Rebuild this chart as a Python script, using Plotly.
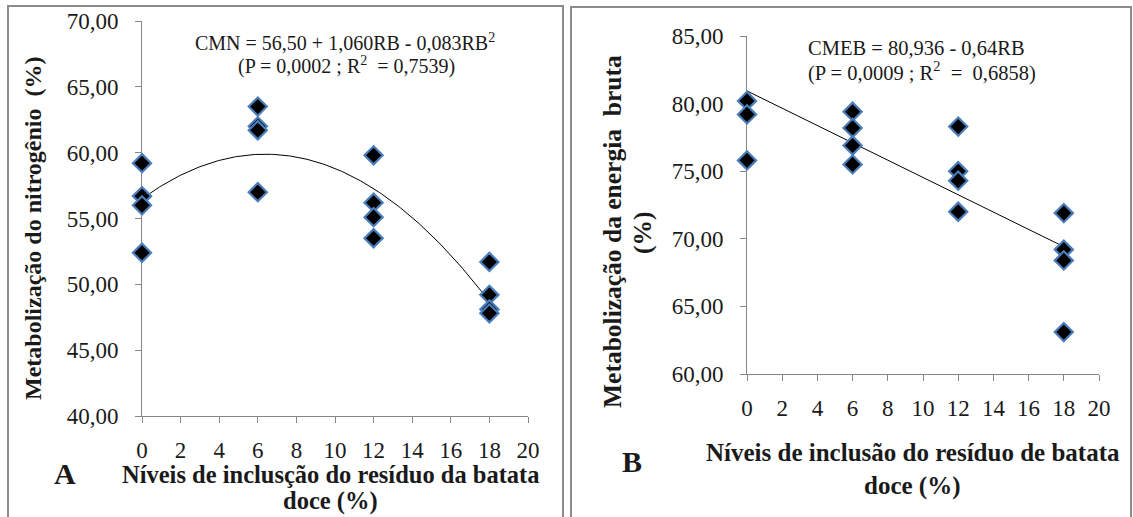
import numpy as np
import plotly.graph_objects as go

# ---------------- data ----------------
# Panel A: nitrogen metabolizability (%)
a_levels = [0, 0, 0, 0, 6, 6, 6, 6, 12, 12, 12, 12, 18, 18, 18, 18]
a_values = [59.2, 56.7, 56.0, 52.4,
            63.5, 62.0, 61.7, 57.0,
            59.8, 56.2, 55.1, 53.5,
            51.7, 49.2, 48.1, 47.8]
a_coef = [56.50, 1.060, -0.083]          # CMN = b0 + b1*RB + b2*RB^2

# Panel B: gross energy metabolizability (%)
b_levels = [0, 0, 0, 6, 6, 6, 6, 12, 12, 12, 12, 18, 18, 18, 18]
b_values = [80.2, 79.2, 75.8,
            79.4, 78.2, 76.9, 75.5,
            78.3, 75.0, 74.3, 72.0,
            71.9, 69.2, 68.4, 63.1]
b_coef = [80.936, -0.64]                 # CMEB = b0 + b1*RB

x_ticks = [0, 2, 4, 6, 8, 10, 12, 14, 16, 18, 20]
x_ticklabels = [str(v) for v in x_ticks]

# ---------------- figure ----------------
W, H = 1133, 517
def PX(x): return x / W
def PY(y): return 1 - y / H

SERIF = "Liberation Serif"
AXC = "#868686"
TXT = "#1a1a1a"
MK_FILL = "#000000"
MK_LINE = "#4a7ebb"

fig = go.Figure()

# fitted curves from the printed equations
xa = np.linspace(0, 18, 181)
ya = a_coef[0] + a_coef[1] * xa + a_coef[2] * xa ** 2
xb = np.array([0, 18])
yb = b_coef[0] + b_coef[1] * xb

fig.add_trace(go.Scatter(x=xa, y=ya, mode="lines", line=dict(color="black", width=1),
                         xaxis="x", yaxis="y", hoverinfo="skip", cliponaxis=False))
fig.add_trace(go.Scatter(x=a_levels, y=a_values, mode="markers",
                         marker=dict(symbol="diamond", size=14, color=MK_FILL,
                                     line=dict(color=MK_LINE, width=2.2)),
                         xaxis="x", yaxis="y", cliponaxis=False))
fig.add_trace(go.Scatter(x=xb, y=yb, mode="lines", line=dict(color="black", width=1),
                         xaxis="x2", yaxis="y2", hoverinfo="skip", cliponaxis=False))
fig.add_trace(go.Scatter(x=b_levels, y=b_values, mode="markers",
                         marker=dict(symbol="diamond", size=14, color=MK_FILL,
                                     line=dict(color=MK_LINE, width=2.2)),
                         xaxis="x2", yaxis="y2", cliponaxis=False))

xcommon = dict(range=[0, 20], tickvals=x_ticks, ticktext=x_ticklabels,
               ticks="outside", ticklen=6, tickcolor=AXC, tickwidth=1,
               showline=True, linecolor=AXC, linewidth=1, showgrid=False,
               zeroline=False, tickfont=dict(family=SERIF, size=23, color=TXT),
               layer="below traces", fixedrange=True, ticklabelstandoff=7,
               automargin=False)
ycommon = dict(ticks="outside", ticklen=6, tickcolor=AXC, tickwidth=1,
               showline=True, linecolor=AXC, linewidth=1, showgrid=False,
               zeroline=False, tickfont=dict(family=SERIF, size=23, color=TXT),
               tickformat=".2f", dtick=5, layer="below traces", fixedrange=True,
               ticklabelstandoff=12, automargin=False)

fig.update_layout(
    template="none",
    width=W, height=H, margin=dict(l=0, r=0, t=0, b=0, pad=0, autoexpand=False),
    paper_bgcolor="white", plot_bgcolor="white", showlegend=False,
    separators=",.", font=dict(family=SERIF, color=TXT),
    xaxis=dict(domain=[PX(142), PX(528)], anchor="y", **xcommon),
    yaxis=dict(domain=[PY(416), PY(21)], anchor="x", range=[40, 70], **ycommon),
    xaxis2=dict(domain=[PX(747), PX(1099)], anchor="y2", **xcommon),
    yaxis2=dict(domain=[PY(374), PY(36)], anchor="x2", range=[60, 85], **ycommon),
)

# panel borders
for x0, x1, y0 in [(8, 563, 6), (571, 1131, 7)]:
    fig.add_shape(type="rect", xref="paper", yref="paper",
                  x0=PX(x0), x1=PX(x1), y0=PY(y0), y1=PY(530),
                  line=dict(color="#8c8c8c", width=2), layer="below")

def note(text, x, y, size, bold=False, angle=0, xanchor="center"):
    t = f"<b>{text}</b>" if bold else text
    fig.add_annotation(text=t, x=PX(x), y=PY(y), xref="paper", yref="paper",
                       showarrow=False, textangle=angle, xanchor=xanchor, yanchor="middle",
                       font=dict(family=SERIF, size=size, color=TXT))

# Panel A texts
note("CMN = 56,50 + 1,060RB - 0,083RB<sup>2</sup>", 345, 42, 20)
note("(P = 0,0002 ; R<sup>2</sup>  = 0,7539)", 346, 65, 20)
note("Metabolização do nitrogênio  (%)", 33, 228, 24, bold=True, angle=-90)
note("Níveis de inclusção do resíduo da batata", 330, 474, 24.5, bold=True)
note("doce (%)", 330, 501, 24.5, bold=True)
note("A", 65, 473, 30, bold=True)

# Panel B texts
note("CMEB = 80,936 - 0,64RB", 806, 48, 20.5, xanchor="left")
note("(P = 0,0009 ; R<sup>2</sup>  =  0,6858)", 806, 71, 20.5, xanchor="left")
note("Metabolização da energia  bruta", 612, 232, 25.5, bold=True, angle=-90)
note("(%)", 643, 233, 25.5, bold=True, angle=-90)
note("Níveis de inclusão do resíduo de batata", 913, 452, 25, bold=True)
note("doce (%)", 912, 486, 25, bold=True)
note("B", 632, 461, 30, bold=True)

fig.write_html("out.html", config={"displayModeBar": False, "staticPlot": True},
               post_script="document.body.style.margin='0px';document.body.style.overflow='hidden';")
